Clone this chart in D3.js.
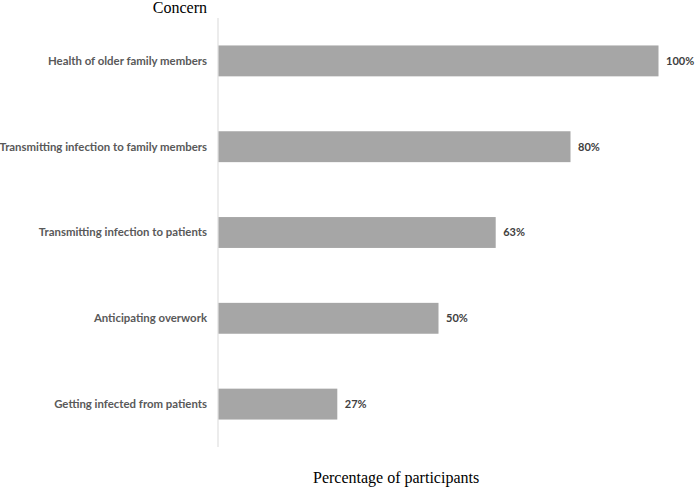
<!DOCTYPE html>
<html>
<head>
<meta charset="utf-8">
<script src="https://cdn.jsdelivr.net/npm/d3@7"></script>
<style>
  body { margin: 0; background: #fff; }
</style>
</head>
<body>
<div id="chart"></div>
<script>
// chart data
const concerns = [
  'Health of older family members',
  'Transmitting infection to family members',
  'Transmitting infection to patients',
  'Anticipating overwork',
  'Getting infected from patients'
];
const percentages = [100, 80, 63, 50, 27];
const valueLabels = ['100%', '80%', '63%', '50%', '27%'];

const width = 700, height = 487;
const axisX = 218; // the vertical axis position

const svg = d3.select('#chart').append('svg')
  .attr('width', width)
  .attr('height', height);

// scales
const x = d3.scaleLinear()
  .domain([0, 100])
  .range([axisX, 658]);

const y = d3.scaleBand()
  .domain(concerns)
  .range([18, 447])
  .paddingInner(0.64)
  .paddingOuter(0.32);

// vertical axis line
svg.append('line')
  .attr('x1', axisX).attr('x2', axisX)
  .attr('y1', 18).attr('y2', 447)
  .attr('stroke', '#d9d9d9')
  .attr('stroke-width', 1);

// bars
svg.selectAll('.bar')
  .data(concerns)
  .enter()
  .append('rect')
  .attr('class', 'bar')
  .attr('x', x(0) + 0.5)
  .attr('y', d => y(d))
  .attr('width', (d, i) => x(percentages[i]) - x(0))
  .attr('height', y.bandwidth())
  .attr('fill', '#a6a6a6');

// category labels
svg.selectAll('.cat')
  .data(concerns)
  .enter()
  .append('text')
  .attr('class', 'cat')
  .attr('x', 207)
  .attr('y', d => y(d) + y.bandwidth() / 2)
  .attr('dy', '0.35em')
  .attr('text-anchor', 'end')
  .style('font-family', 'Lato, sans-serif')
  .style('font-weight', 'bold')
  .style('font-size', '11.4px')
  .style('fill', '#595959')
  .text(d => d);

// value labels
svg.selectAll('.val')
  .data(concerns)
  .enter()
  .append('text')
  .attr('class', 'val')
  .attr('x', (d, i) => x(percentages[i]) + 8)
  .attr('y', d => y(d) + y.bandwidth() / 2)
  .attr('dy', '0.35em')
  .style('font-family', 'Lato, sans-serif')
  .style('font-weight', 'bold')
  .style('font-size', '11px')
  .style('fill', '#404040')
  .text((d, i) => valueLabels[i]);

// axis titles
svg.append('text')
  .attr('x', 207)
  .attr('y', 13)
  .attr('text-anchor', 'end')
  .style('font-family', '"Liberation Serif", "Times New Roman", serif')
  .style('font-size', '16px')
  .style('fill', '#000')
  .text('Concern');

svg.append('text')
  .attr('x', 313)
  .attr('y', 483)
  .style('font-family', '"Liberation Serif", "Times New Roman", serif')
  .style('font-size', '16px')
  .style('fill', '#000')
  .text('Percentage of participants');
</script>
</body>
</html>
